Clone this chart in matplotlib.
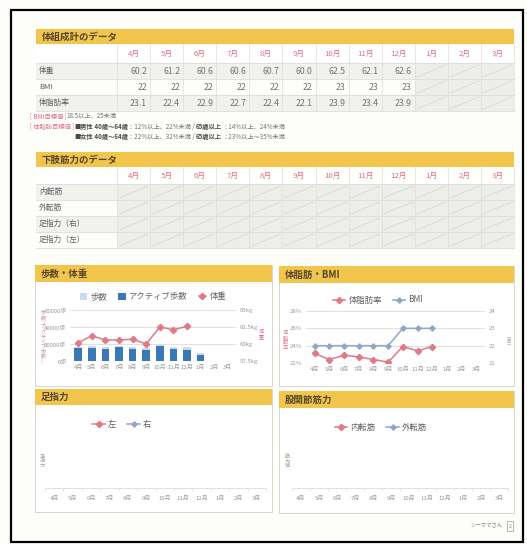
import matplotlib
matplotlib.use('Agg')
import matplotlib.pyplot as plt
from matplotlib.patches import Rectangle
from matplotlib.lines import Line2D
import numpy as np

plt.rcParams['font.family'] = ['Noto Sans CJK JP', 'DejaVu Sans']

W, H = 527, 544

# data
months = ['4月', '5月', '6月', '7月', '8月', '9月', '10月', '11月', '12月', '1月', '2月', '3月']
weight = [60.2, 61.2, 60.6, 60.6, 60.7, 60.0, 62.5, 62.1, 62.6]
bmi = [22, 22, 22, 22, 22, 22, 23, 23, 23]
body_fat = [23.1, 22.4, 22.9, 22.7, 22.4, 22.1, 23.9, 23.4, 23.9]
steps = [17000, 18000, 17000, 17500, 16000, 15000, 19000, 17000, 16000, 9000]
active_steps = [15500, 15500, 14000, 16000, 14500, 13500, 17500, 14000, 12500, 7500]

body_rows = ['体重', 'BMI', '体脂肪率']
leg_rows = ['内転筋', '外転筋', '足指力（右）', '足指力（左）']

step_ticks = [0, 20000, 40000, 60000]
weight_ticks = [57.5, 60, 62.5, 65]
fat_ticks = [22, 24, 26, 28]
bmi_ticks = [21, 22, 23, 24]

# colours
YELLOW = '#f2c64c'
PINK = '#e07088'
LINE_PINK = '#e27a86'
LIGHT_BLUE = '#c9daee'
DARK_BLUE = '#3b79b6'
BMI_BLUE = '#8fa8c9'
GRID = '#dcdcd8'
TXT = '#747472'

fig = plt.figure(figsize=(W / 100, H / 100), dpi=100, facecolor='#fdfdf9')
bg = fig.add_axes([0, 0, 1, 1])
bg.set_xlim(0, W)
bg.set_ylim(H, 0)
bg.axis('off')

# scanned page frame
bg.add_patch(Rectangle((10.5, 9.5), 512, 532, fill=False, ec='black', lw=1.6))


def px_axes(x0, y0, x1, y1):
    return fig.add_axes([x0 / W, 1 - y1 / H, (x1 - x0) / W, (y1 - y0) / H])


def header(x0, x1, y0, y1, title):
    bg.add_patch(Rectangle((x0, y0), x1 - x0, y1 - y0, fc=YELLOW, ec='none'))
    bg.text(x0 + 6, (y0 + y1) / 2, title, fontsize=6.8, color='#54452c',
            fontweight='bold', va='center', ha='left')


def panel(x0, x1, y0, y1):
    bg.add_patch(Rectangle((x0, y0), x1 - x0, y1 - y0, fc='white', ec='#d4d4d0', lw=0.7))


TAB_X0, LAB_X1, TAB_X1 = 36, 117, 514
ROW_H = 16


def draw_table(y0, head_h, rows, values, fmts):
    col_w = (TAB_X1 - LAB_X1) / len(months)
    bg.add_patch(Rectangle((TAB_X0, y0), TAB_X1 - TAB_X0, head_h, fc='white', ec='none'))
    for i, m in enumerate(months):
        bg.text(LAB_X1 + (i + 0.5) * col_w, y0 + head_h / 2, m, fontsize=5.6,
                color=PINK, ha='center', va='center')
    for r, name in enumerate(rows):
        top = y0 + head_h + r * ROW_H
        shade = '#f1f1ee' if r % 2 == 0 else '#fdfdfb'
        bg.add_patch(Rectangle((TAB_X0, top), TAB_X1 - TAB_X0, ROW_H, fc=shade, ec='none'))
        bg.text(TAB_X0 + 3, top + ROW_H / 2, name, fontsize=5.6, color='#606060',
                ha='left', va='center')
        vals = values[r] if values else []
        for i in range(len(months)):
            cx = LAB_X1 + i * col_w
            if i < len(vals):
                bg.text(cx + col_w - 3, top + ROW_H / 2, format(vals[i], fmts[r]),
                        fontsize=6.3, color=TXT, ha='right', va='center')
            else:
                bg.add_patch(Rectangle((cx, top), col_w, ROW_H, fc='#ededea', ec='none'))
                bg.plot([cx + 2, cx + col_w - 2], [top + ROW_H - 2, top + 2],
                        color='#d2d2ce', lw=0.5)
    y_end = y0 + head_h + len(rows) * ROW_H
    for r in range(len(rows) + 1):
        yy = y0 + head_h + r * ROW_H
        bg.plot([TAB_X0, TAB_X1], [yy, yy], color=GRID, lw=0.6)
    for i in range(len(months) + 1):
        xx = LAB_X1 + i * col_w
        bg.plot([xx, xx], [y0, y_end], color=GRID, lw=0.5)


def chain(prev, pieces, fs=4.5):
    for s, c, wt in pieces:
        prev = bg.annotate(s, xy=(1, 0.5), xycoords=prev, fontsize=fs, color=c,
                           fontweight=wt, va='center')
    return prev


# ---- body composition table ----
header(TAB_X0, TAB_X1, 29, 44, '体組成計のデータ')
draw_table(44, 19, body_rows, [weight, bmi, body_fat], ['.1f', 'd', '.1f'])

first = bg.text(30, 116, '[ BMI目標値 ]', fontsize=4.5, color=PINK, va='center')
chain(first, [('18.5以上、25未満', TXT, 'normal')])
first = bg.text(30, 126.5, '[ 体脂肪目標値 ]', fontsize=4.5, color=PINK, va='center')
male = chain(first, [('■男性', '#4a4a48', 'bold')])
chain(male, [(' 40歳～64歳', '#4a4a48', 'bold'), ('：12%以上、22%未満 / ', TXT, 'normal'),
             ('65歳以上', '#4a4a48', 'bold'), ('：14%以上、24%未満', TXT, 'normal')])
female = bg.annotate('■女性', xy=(0, 0.5), xycoords=male, xytext=(0, -7.5),
                     textcoords='offset points', fontsize=4.5, color='#4a4a48',
                     fontweight='bold', va='center')
chain(female, [(' 40歳～64歳', '#4a4a48', 'bold'), ('：22%以上、32%未満 / ', TXT, 'normal'),
               ('65歳以上', '#4a4a48', 'bold'), ('：23%以上～35%未満', TXT, 'normal')])

# ---- lower limb table ----
header(TAB_X0, TAB_X1, 152, 167, '下肢筋力のデータ')
draw_table(167, 17, leg_rows, None, [])

# ---- chart panels ----
panel(35, 272, 265, 386)
header(35, 272, 265, 282, '歩数・体重')
panel(279, 514, 266, 386)
header(279, 514, 266, 283, '体脂肪・BMI')
panel(35, 272, 389, 512)
header(35, 272, 389, 405, '足指力')
panel(279, 514, 391, 513)
header(279, 514, 391, 408, '股関節筋力')

x = np.arange(len(months))


def style_axis(ax):
    for sp in ax.spines.values():
        sp.set_visible(False)
    ax.tick_params(axis='both', length=0, labelsize=4.3, labelcolor='#9a9a98', pad=2.5)
    ax.set_facecolor('none')


def vtext(xp, yp, s, color):
    bg.text(xp, yp, '\n'.join(s), fontsize=3.7, color=color, ha='center', va='center',
            linespacing=0.95)


legend_kw = dict(loc='center', frameon=False, fontsize=6, columnspacing=1.3,
                 handletextpad=0.4, labelcolor='#606060')

# steps / weight
ax = px_axes(70, 310, 236, 361)
ax.bar(x[:len(steps)], steps, width=0.55, color=LIGHT_BLUE, zorder=2)
ax.bar(x[:len(active_steps)], active_steps, width=0.55, color=DARK_BLUE, zorder=3)
ax.set_xlim(-0.6, len(months) - 0.4)
ax.set_ylim(step_ticks[0], step_ticks[-1])
ax.set_yticks(step_ticks, labels=[f'{v}歩' for v in step_ticks])
ax.set_xticks(x, labels=months)
ax.grid(axis='y', color=GRID, lw=0.6, zorder=0)
ax.set_axisbelow(True)
style_axis(ax)
ax2 = ax.twinx()
ax2.plot(x[:len(weight)], weight, color=LINE_PINK, marker='D', ms=3.2, lw=1.1, zorder=4)
ax2.set_ylim(weight_ticks[0], weight_ticks[-1])
ax2.set_yticks(weight_ticks, labels=[f'{v:g}kg' for v in weight_ticks])
style_axis(ax2)
vtext(43, 337, '歩数（アクティブ歩数）', '#c59aa6')
vtext(261, 334, '体重', PINK)
handles = [Rectangle((0, 0), 1, 1, fc=LIGHT_BLUE), Rectangle((0, 0), 1, 1, fc=DARK_BLUE),
           Line2D([], [], color=LINE_PINK, marker='D', ms=3.2, lw=1.1)]
fig.legend(handles, ['歩数', 'アクティブ歩数', '体重'], bbox_to_anchor=(153 / W, 1 - 297 / H),
           ncol=3, handlelength=0.9, handleheight=0.9, **legend_kw)

# body fat / BMI
ax = px_axes(306, 311, 485, 363)
ax.plot(x[:len(body_fat)], body_fat, color=LINE_PINK, marker='D', ms=3.2, lw=1.1, zorder=4)
ax.set_xlim(-0.6, len(months) - 0.4)
ax.set_ylim(fat_ticks[0], fat_ticks[-1])
ax.set_yticks(fat_ticks, labels=[f'{v}%' for v in fat_ticks])
ax.set_xticks(x, labels=months)
ax.grid(axis='y', color=GRID, lw=0.6, zorder=0)
style_axis(ax)
ax2 = ax.twinx()
ax2.plot(x[:len(bmi)], bmi, color=BMI_BLUE, marker='P', ms=3.4, lw=1.1, zorder=3)
ax2.set_ylim(bmi_ticks[0], bmi_ticks[-1])
ax2.set_yticks(bmi_ticks, labels=[str(v) for v in bmi_ticks])
style_axis(ax2)
vtext(285, 340, '体脂肪率', PINK)
bg.text(507, 340, 'BMI', fontsize=3.7, color='#9a9a98', rotation=270, ha='center', va='center')
handles = [Line2D([], [], color=LINE_PINK, marker='D', ms=3.2, lw=1.1),
           Line2D([], [], color=BMI_BLUE, marker='P', ms=3.4, lw=1.1)]
fig.legend(handles, ['体脂肪率', 'BMI'], bbox_to_anchor=(378 / W, 1 - 300 / H),
           ncol=2, handlelength=1.5, **legend_kw)


def empty_chart(x0, x1, y_leg, xc_leg, labels, ylab, ylab_x):
    ax = px_axes(x0, 430, x1, 488)
    ax.set_xlim(-0.5, len(months) - 0.5)
    ax.set_ylim(0, 1)
    ax.set_yticks([])
    ax.set_xticks(x, labels=months)
    ax.set_xticks(np.arange(len(months) + 1) - 0.5, minor=True)
    for sp in ['top', 'left', 'right']:
        ax.spines[sp].set_visible(False)
    ax.spines['bottom'].set_color(GRID)
    ax.spines['bottom'].set_linewidth(0.6)
    ax.tick_params(axis='x', which='major', length=0, labelsize=4.3, labelcolor='#9a9a98', pad=6)
    ax.tick_params(axis='x', which='minor', length=2, color=GRID, width=0.5)
    ax.set_facecolor('none')
    handles = [Line2D([], [], color=LINE_PINK, marker='D', ms=3.2, lw=1.1),
               Line2D([], [], color=BMI_BLUE, marker='P', ms=3.4, lw=1.1)]
    fig.legend(handles, labels, bbox_to_anchor=(xc_leg / W, 1 - y_leg / H),
               ncol=2, handlelength=1.5, **legend_kw)
    vtext(ylab_x, 461, ylab, '#9a9a98')


empty_chart(45, 266, 424, 122, ['左', '右'], '足指力', 42)
empty_chart(292, 508, 427, 381, ['内転筋', '外転筋'], '筋力値', 287)

# footer
bg.text(503, 526, 'シーマでさん', fontsize=3.9, color='#8a8a88', ha='right', va='center')
bg.add_patch(Rectangle((507, 521), 6, 10, fill=False, ec='#9a9a98', lw=0.5))
bg.text(510, 526, '2', fontsize=3.9, color='#8a8a88', ha='center', va='center')

fig.savefig('out.png', dpi=100, facecolor=fig.get_facecolor())
